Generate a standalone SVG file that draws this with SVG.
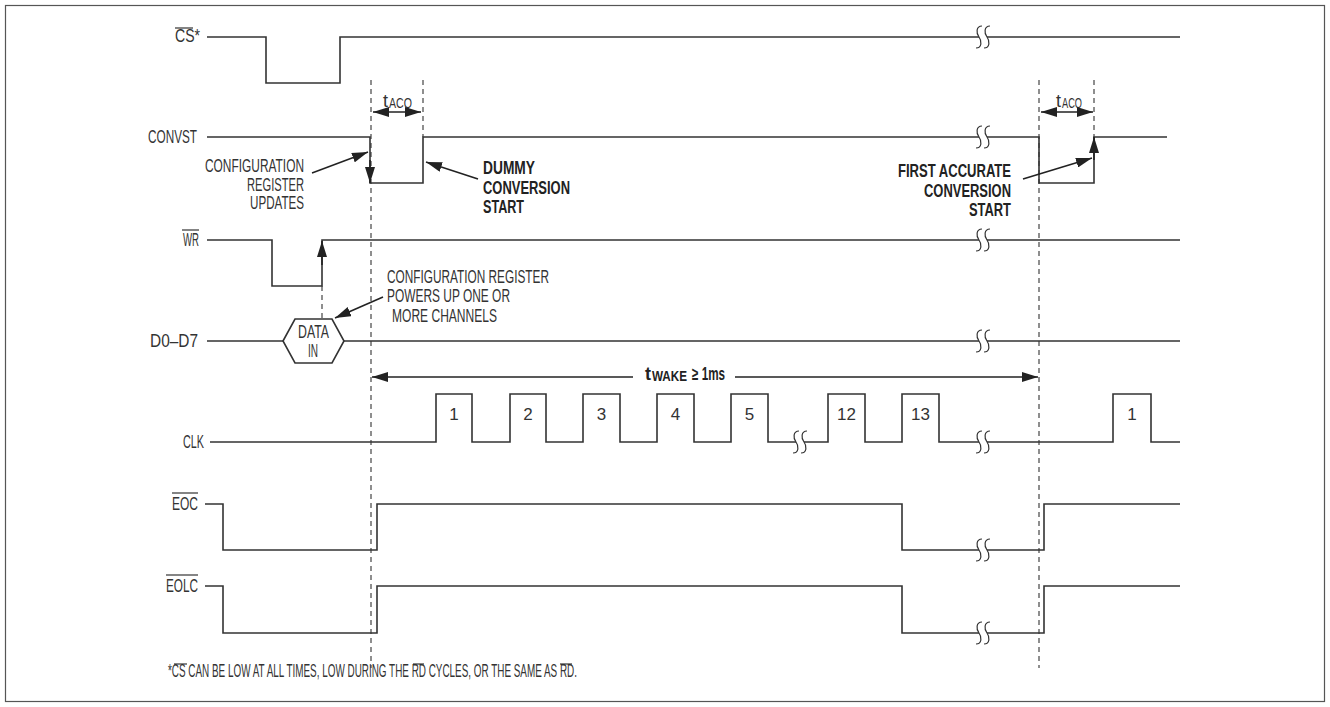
<svg xmlns="http://www.w3.org/2000/svg" width="1330" height="707" viewBox="0 0 1330 707">
<style>
.t{font-family:"Liberation Sans",Arial,sans-serif;font-size:18px;fill:#333}
.n{font-family:"Liberation Sans",Arial,sans-serif;font-size:17px;fill:#333;text-anchor:middle}
.s{font-size:14px}
.b{font-weight:bold;fill:#222}
.sig{fill:none;stroke:#333;stroke-width:1.6}
.ov{stroke:#333;stroke-width:1.2}
.dash{fill:none;stroke:#444;stroke-width:1.2;stroke-dasharray:5 4}
.arr{fill:none;stroke:#222;stroke-width:1.6}
.sq{fill:none;stroke:#333;stroke-width:1.2}
</style>
<defs>
<marker id="ah" viewBox="0 0 16 10" refX="16" refY="5" markerWidth="16" markerHeight="10" markerUnits="userSpaceOnUse" orient="auto-start-reverse">
<path d="M0,0 L16,5 L0,10 z" fill="#222"/>
</marker>
<g id="brk">
<rect x="-4" y="-2.5" width="8" height="5" fill="#fff"/>
<path class="sq" d="M-1,-11 C-7,-11 -7,-4 -4,0 C-1,4 -1,11 -7,11"/>
<path class="sq" d="M7,-11 C1,-11 1,-4 4,0 C7,4 7,11 1,11"/>
</g>
</defs>
<rect x="5.5" y="5.5" width="1319" height="696" fill="#fff" stroke="#555" stroke-width="1.2"/>

<g id="timing-markers">
<line class="dash" x1="371" y1="80" x2="371" y2="668"/>
<line class="dash" x1="423" y1="80" x2="423" y2="137"/>
<line class="dash" x1="1039" y1="80" x2="1039" y2="668"/>
<line class="dash" x1="1094" y1="80" x2="1094" y2="137"/>
<line class="dash" x1="322" y1="286" x2="322" y2="319"/>
</g>

<g id="sig-cs">
<text class="t" x="175" y="42" textLength="25" lengthAdjust="spacingAndGlyphs">CS*</text>
<line class="ov" x1="175" y1="28" x2="193" y2="28"/>
<path class="sig" d="M207,37 H266 V83 H340 V37 H1180"/>
<use href="#brk" x="983" y="37"/>
</g>

<g id="sig-convst">
<text class="t" x="148" y="143" textLength="49" lengthAdjust="spacingAndGlyphs">CONVST</text>
<path class="sig" d="M207,137 H370 V183 H423 V137 H1039 V183 H1094 V137 H1167"/>
<use href="#brk" x="983" y="137"/>
</g>

<g id="sig-wr">
<text class="t" x="183" y="246" textLength="16" lengthAdjust="spacingAndGlyphs">WR</text>
<line class="ov" x1="182" y1="230" x2="199" y2="230"/>
<path class="sig" d="M207,240 H272 V286 H322 V240 H1180"/>
<use href="#brk" x="983" y="240"/>
</g>

<g id="sig-data">
<text class="t" x="150" y="347" textLength="48" lengthAdjust="spacingAndGlyphs">D0–D7</text>
<path class="sig" d="M207,341 H283 M344,341 H1180"/>
<use href="#brk" x="983" y="341"/>
</g>

<g id="data-in">
<polygon class="sig" points="283,341 295,319 332,319 344,341 332,363 295,363"/>
<text class="t" x="298" y="338" textLength="31" lengthAdjust="spacingAndGlyphs">DATA</text>
<text class="t" x="308" y="357" textLength="10" lengthAdjust="spacingAndGlyphs">IN</text>
</g>

<g id="sig-clk">
<text class="t" x="183" y="448" textLength="21" lengthAdjust="spacingAndGlyphs">CLK</text>
<path class="sig" d="M210,442 H436 V394 H472 V442 H510 V394 H546 V442 H583 V394 H620 V442 H657 V394 H694 V442 H731 V394 H768 V442 H828 V394 H865 V442 H902 V394 H939 V442 H1113 V394 H1151 V442 H1180"/>
<use href="#brk" x="800" y="442"/>
<use href="#brk" x="983" y="442"/>
<text class="n" x="454" y="420">1</text>
<text class="n" x="528" y="420">2</text>
<text class="n" x="601.5" y="420">3</text>
<text class="n" x="675.5" y="420">4</text>
<text class="n" x="749.5" y="420">5</text>
<text class="n" x="846.5" y="420">12</text>
<text class="n" x="920.5" y="420">13</text>
<text class="n" x="1132" y="420">1</text>
</g>

<g id="sig-eoc">
<text class="t" x="172" y="510" textLength="26" lengthAdjust="spacingAndGlyphs">EOC</text>
<line class="ov" x1="172" y1="493" x2="198" y2="493"/>
<path class="sig" d="M205,504 H223 V550 H377 V504 H902 V550 H1044 V504 H1180"/>
<use href="#brk" x="983" y="550"/>
</g>

<g id="sig-eolc">
<text class="t" x="166" y="592" textLength="32" lengthAdjust="spacingAndGlyphs">EOLC</text>
<line class="ov" x1="166" y1="575" x2="198" y2="575"/>
<path class="sig" d="M205,586 H223 V633 H377 V586 H902 V633 H1044 V586 H1180"/>
<use href="#brk" x="983" y="633"/>
</g>

<g id="label-tacq1">
<text class="t" x="383" y="107">t</text>
<text class="t s" x="389" y="108" textLength="23" lengthAdjust="spacingAndGlyphs">ACQ</text>
</g>
<g id="label-tacq2">
<text class="t" x="1056" y="107">t</text>
<text class="t s" x="1062" y="108" textLength="20" lengthAdjust="spacingAndGlyphs">ACQ</text>
</g>
<g id="label-twake">
<text class="t b" x="645" y="380">t</text>
<text class="t b s" x="652" y="381" textLength="35" lengthAdjust="spacingAndGlyphs">WAKE</text>
<text class="t b" x="692" y="380" textLength="33" lengthAdjust="spacingAndGlyphs">≥ 1ms</text>
</g>

<g id="note-config-updates">
<text class="t" x="205" y="172" textLength="99" lengthAdjust="spacingAndGlyphs">CONFIGURATION</text>
<text class="t" x="247" y="191" textLength="57" lengthAdjust="spacingAndGlyphs">REGISTER</text>
<text class="t" x="250" y="209" textLength="54" lengthAdjust="spacingAndGlyphs">UPDATES</text>
</g>

<g id="note-dummy">
<text class="t b" x="483" y="174" textLength="52" lengthAdjust="spacingAndGlyphs">DUMMY</text>
<text class="t b" x="483" y="194" textLength="87" lengthAdjust="spacingAndGlyphs">CONVERSION</text>
<text class="t b" x="483" y="213" textLength="41" lengthAdjust="spacingAndGlyphs">START</text>
</g>

<g id="note-first">
<text class="t b" x="898" y="177" textLength="113" lengthAdjust="spacingAndGlyphs">FIRST ACCURATE</text>
<text class="t b" x="924" y="197" textLength="87" lengthAdjust="spacingAndGlyphs">CONVERSION</text>
<text class="t b" x="969" y="216" textLength="42" lengthAdjust="spacingAndGlyphs">START</text>
</g>

<g id="note-powers">
<text class="t" x="387" y="283" textLength="162" lengthAdjust="spacingAndGlyphs">CONFIGURATION REGISTER</text>
<text class="t" x="387" y="302" textLength="123" lengthAdjust="spacingAndGlyphs">POWERS UP ONE OR</text>
<text class="t" x="392" y="322" textLength="105" lengthAdjust="spacingAndGlyphs">MORE CHANNELS</text>
</g>

<g id="connectors">
<line class="arr" x1="373" y1="112" x2="421" y2="112" marker-start="url(#ah)" marker-end="url(#ah)"/>
<line class="arr" x1="1041" y1="112" x2="1093" y2="112" marker-start="url(#ah)" marker-end="url(#ah)"/>
<line class="arr" x1="372" y1="377" x2="633" y2="377" marker-start="url(#ah)"/>
<line class="arr" x1="735" y1="377" x2="1038" y2="377" marker-end="url(#ah)"/>
<line class="arr" x1="370" y1="160" x2="370" y2="183" marker-end="url(#ah)"/>
<line class="arr" x1="322" y1="265" x2="322" y2="241" marker-end="url(#ah)"/>
<line class="arr" x1="1094" y1="160" x2="1094" y2="137" marker-end="url(#ah)"/>
<line class="arr" x1="312" y1="173" x2="368" y2="152" marker-end="url(#ah)"/>
<line class="arr" x1="478" y1="179" x2="426" y2="162" marker-end="url(#ah)"/>
<line class="arr" x1="1023" y1="179" x2="1092" y2="158" marker-end="url(#ah)"/>
<line class="arr" x1="383" y1="297" x2="335" y2="318" marker-end="url(#ah)"/>
</g>

<g id="footnote">
<text class="t" x="168" y="677" font-size="16" textLength="409" lengthAdjust="spacingAndGlyphs">*CS CAN BE LOW AT ALL TIMES, LOW DURING THE RD CYCLES, OR THE SAME AS RD.</text>
<line class="ov" x1="174" y1="664" x2="187" y2="664"/>
<line class="ov" x1="413" y1="664" x2="424" y2="664"/>
<line class="ov" x1="560" y1="664" x2="572" y2="664"/>
</g>
</svg>
